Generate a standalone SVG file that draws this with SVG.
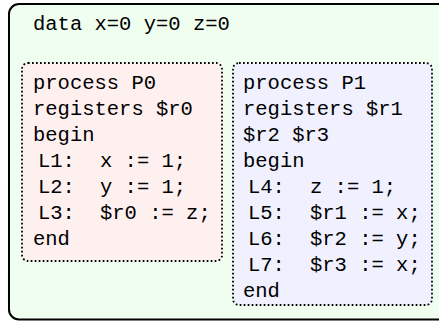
<svg xmlns="http://www.w3.org/2000/svg" width="439" height="322" viewBox="0 0 439 322">
<style>
text{font-family:"Liberation Mono","Courier New",monospace;font-size:20.5px;fill:#000;white-space:pre}
.outer{fill:#f0fef0;stroke:#000;stroke-width:2}
.proc{stroke:#000;stroke-width:1.8;stroke-dasharray:1.7 2.3}
.p0{fill:#fff0f0}
.p1{fill:#f0f0ff}
</style>
<g id="data">
<rect class="outer" x="9" y="4" width="445" height="315.5" rx="10"/>
<text x="33" y="30">data x=0 y=0 z=0</text>
</g>
<g id="P0">
<rect class="proc p0" x="22" y="63" width="200" height="198" rx="6"/>
<text x="33" y="89">process P0</text>
<text x="33" y="115">registers $r0</text>
<text x="33" y="141">begin</text>
<text x="38" y="167">L1:</text><text x="100" y="167">x := 1;</text>
<text x="38" y="193">L2:</text><text x="100" y="193">y := 1;</text>
<text x="38" y="219">L3:</text><text x="100" y="219">$r0 := z;</text>
<text x="33" y="245">end</text>
</g>
<g id="P1">
<rect class="proc p1" x="233" y="63" width="199" height="242" rx="6"/>
<text x="243" y="89">process P1</text>
<text x="243" y="115">registers $r1</text>
<text x="243" y="141">$r2 $r3</text>
<text x="243" y="167">begin</text>
<text x="248" y="193">L4:</text><text x="310" y="193">z := 1;</text>
<text x="248" y="219">L5:</text><text x="310" y="219">$r1 := x;</text>
<text x="248" y="245">L6:</text><text x="310" y="245">$r2 := y;</text>
<text x="248" y="271">L7:</text><text x="310" y="271">$r3 := x;</text>
<text x="243" y="297">end</text>
</g>
<g id="connectors"/>
</svg>
